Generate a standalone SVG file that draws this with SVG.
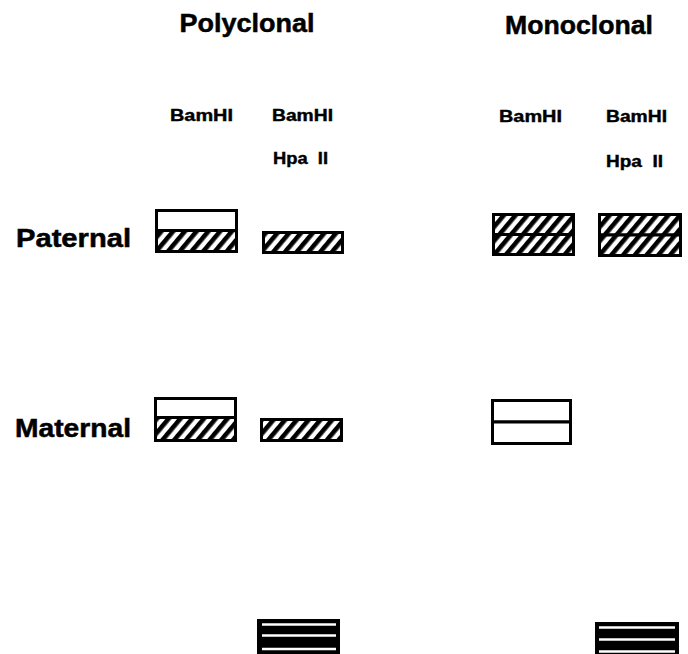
<svg xmlns="http://www.w3.org/2000/svg" width="688" height="654" viewBox="0 0 688 654">
<defs>
<pattern id="hatch" patternUnits="userSpaceOnUse" width="9" height="9" patternTransform="rotate(40)">
<rect x="0" y="0" width="9" height="9" fill="#fff"/>
<rect x="0" y="0" width="4.6" height="9" fill="#000"/>
</pattern>
</defs>
<style>
text{font-family:"Liberation Sans",Arial,Helvetica,sans-serif;font-weight:bold;fill:#000;stroke:#000;stroke-width:0.5}
.h{font-size:26px}
.r{font-size:25px}
.e{font-size:16px;stroke-width:0.4}
.box{stroke:#000;stroke-width:3;fill:#fff}
.hb{stroke:#000;stroke-width:3;fill:url(#hatch)}
.wl{stroke:#fff;stroke-width:2.4}
</style>
<rect width="688" height="654" fill="#fff"/>
<g id="titles">
<text class="h" x="247" y="32" text-anchor="middle" textLength="135" lengthAdjust="spacingAndGlyphs">Polyclonal</text>
<text class="h" x="579" y="34" text-anchor="middle" textLength="148" lengthAdjust="spacingAndGlyphs">Monoclonal</text>
</g>
<g id="enzymes">
<text class="e" x="170" y="121" textLength="63" lengthAdjust="spacingAndGlyphs">BamHI</text>
<text class="e" x="272" y="121" textLength="61" lengthAdjust="spacingAndGlyphs">BamHI</text>
<text class="e" x="273" y="164" textLength="55" lengthAdjust="spacingAndGlyphs" xml:space="preserve">Hpa  II</text>
<text class="e" x="499" y="122" textLength="63" lengthAdjust="spacingAndGlyphs">BamHI</text>
<text class="e" x="606" y="122" textLength="61" lengthAdjust="spacingAndGlyphs">BamHI</text>
<text class="e" x="606" y="167" textLength="57" lengthAdjust="spacingAndGlyphs" xml:space="preserve">Hpa  II</text>
</g>
<g id="rows">
<text class="r" x="16" y="247" textLength="115" lengthAdjust="spacingAndGlyphs">Paternal</text>
<text class="r" x="15" y="437" textLength="116" lengthAdjust="spacingAndGlyphs">Maternal</text>
</g>
<g id="poly-paternal-bamhi">
<rect class="hb" x="156.5" y="229.5" width="80" height="22"/>
<rect class="box" x="156.5" y="210.5" width="80" height="20"/>
</g>
<g id="poly-paternal-hpa">
<rect class="hb" x="263.5" y="232.5" width="79" height="20"/>
</g>
<g id="mono-paternal-bamhi">
<rect class="hb" x="493.5" y="214.5" width="80" height="20"/>
<rect class="hb" x="493.5" y="234.5" width="80" height="20"/>
</g>
<g id="mono-paternal-hpa">
<rect class="hb" x="599.5" y="214.5" width="81" height="20.5"/>
<rect class="hb" x="599.5" y="235" width="81" height="20.5"/>
</g>
<g id="poly-maternal-bamhi">
<rect class="hb" x="155.5" y="417" width="80" height="23.5"/>
<rect class="box" x="155.5" y="398.5" width="80" height="19"/>
</g>
<g id="poly-maternal-hpa">
<rect class="hb" x="261.5" y="419.5" width="80" height="21"/>
</g>
<g id="mono-maternal-bamhi">
<rect class="box" x="492.5" y="400.5" width="78" height="21.5"/>
<rect class="box" x="492.5" y="422" width="78" height="21.5"/>
</g>
<g id="poly-bottom">
<rect x="257" y="619" width="83" height="40" fill="#000"/>
<line class="wl" x1="262" y1="624.5" x2="336" y2="624.5"/>
<line class="wl" x1="262" y1="635.5" x2="336" y2="635.5"/>
<line class="wl" x1="262" y1="649" x2="336" y2="649"/>
</g>
<g id="mono-bottom">
<rect x="595" y="622" width="84" height="40" fill="#000"/>
<line class="wl" x1="599" y1="627.5" x2="675" y2="627.5"/>
<line class="wl" x1="599" y1="639.5" x2="675" y2="639.5"/>
<line class="wl" x1="599" y1="651.5" x2="675" y2="651.5"/>
</g>
<g id="connectors"></g>
</svg>
